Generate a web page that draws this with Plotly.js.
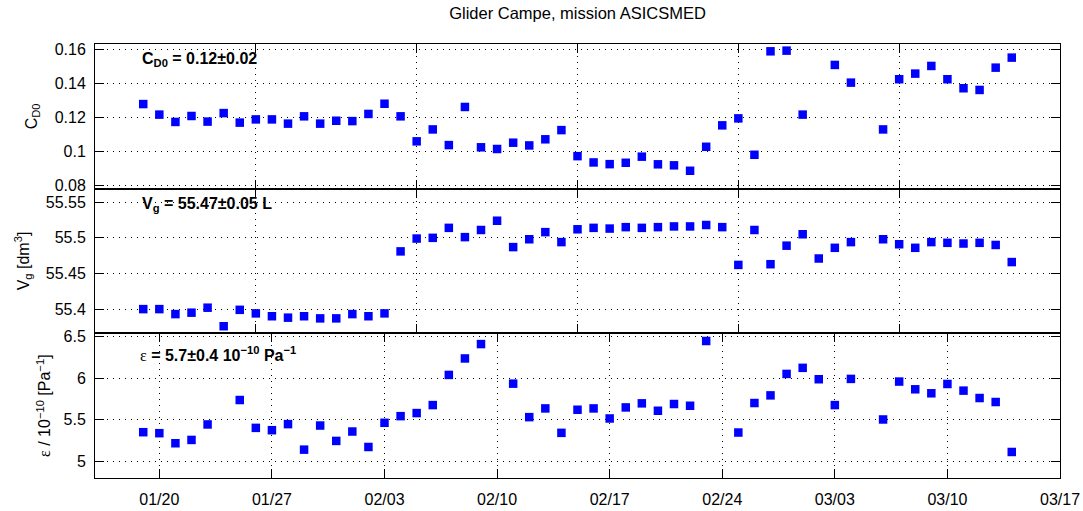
<!DOCTYPE html>
<html>
<head>
<meta charset="utf-8">
<script src="https://cdn.plot.ly/plotly-3.0.1.min.js"></script>
<style>
  html, body { margin: 0; padding: 0; background: #ffffff; }
  #chart { width: 1083px; height: 511px; }
</style>
</head>
<body>
<div id="chart"></div>
<script>
// Daily glider calibration results (one estimate per day)
const dates = [
  '2013-01-19', '2013-01-20', '2013-01-21', '2013-01-22', '2013-01-23', '2013-01-24', '2013-01-25',
  '2013-01-26', '2013-01-27', '2013-01-28', '2013-01-29', '2013-01-30', '2013-01-31', '2013-02-01',
  '2013-02-02', '2013-02-03', '2013-02-04', '2013-02-05', '2013-02-06', '2013-02-07', '2013-02-08',
  '2013-02-09', '2013-02-10', '2013-02-11', '2013-02-12', '2013-02-13', '2013-02-14', '2013-02-15',
  '2013-02-16', '2013-02-17', '2013-02-18', '2013-02-19', '2013-02-20', '2013-02-21', '2013-02-22',
  '2013-02-23', '2013-02-24', '2013-02-25', '2013-02-26', '2013-02-27', '2013-02-28', '2013-03-01',
  '2013-03-02', '2013-03-03', '2013-03-04', '2013-03-05', '2013-03-06', '2013-03-07', '2013-03-08',
  '2013-03-09', '2013-03-10', '2013-03-11', '2013-03-12', '2013-03-13', '2013-03-14'
];

// Drag coefficient C_D0
const cd0 = [
  0.1278, 0.1216, 0.1173, 0.1208, 0.1175, 0.1225, 0.1169,
  0.1188, 0.1188, 0.1163, 0.1206, 0.1163, 0.1180, 0.1178,
  0.1220, 0.1280, 0.1206, 0.1059, 0.1129, 0.1037, 0.1261,
  0.1024, 0.1014, 0.1051, 0.1035, 0.1071, 0.1125, 0.0972,
  0.0935, 0.0925, 0.0933, 0.0969, 0.0924, 0.0918, 0.0886,
  0.1027, 0.1153, 0.1194, 0.0980, 0.1588, 0.1592, 0.1216,
  null,   0.1508, 0.1404, null,   0.1129, 0.1424, 0.1457,
  0.1502, 0.1424, 0.1371, 0.1361, 0.1492, 0.1551
];

// Glider volume V_g [dm^3]
const vg = [
  55.400, 55.400, 55.393, 55.395, 55.402, 55.376, 55.399,
  55.394, 55.390, 55.388, 55.390, 55.387, 55.387, 55.393,
  55.390, 55.394, 55.481, 55.499, 55.500, 55.514, 55.501,
  55.511, 55.524, 55.487, 55.498, 55.508, 55.494, 55.512,
  55.514, 55.513, 55.515, 55.514, 55.515, 55.516, 55.516,
  55.518, 55.515, 55.462, 55.511, 55.463, 55.489, 55.505,
  55.471, 55.486, 55.494, null,   55.498, 55.491, 55.486,
  55.494, 55.493, 55.492, 55.493, 55.490, 55.466
];

// Hull compressibility epsilon [1e-10 Pa^-1]
const eps = [
  5.351, 5.339, 5.218, 5.258, 5.444, null,  5.738,
  5.403, 5.375, 5.448, 5.141, 5.431, 5.246, 5.359,
  5.173, 5.464, 5.544, 5.581, 5.677, 6.040, 6.238,
  6.411, null,  5.935, 5.532, 5.637, 5.343, 5.621,
  5.637, 5.516, 5.649, 5.698, 5.609, 5.690, 5.669,
  6.448, null,  5.347, 5.702, 5.794, 6.052, 6.125,
  5.988, 5.677, 5.992, null,  5.504, 5.960, 5.867,
  5.819, 5.931, 5.851, 5.762, 5.714, 5.113
];

// Axis ticks
const weekTicks = ['2013-01-20', '2013-01-27', '2013-02-03', '2013-02-10', '2013-02-17',
                   '2013-02-24', '2013-03-03', '2013-03-10', '2013-03-17'];
const weekLabels = ['01/20', '01/27', '02/03', '02/10', '02/17', '02/24', '03/03', '03/10', '03/17'];
const tenDayTicks = ['2013-01-16', '2013-01-26', '2013-02-05', '2013-02-15', '2013-02-25',
                     '2013-03-07', '2013-03-17'];
const xRange = ['2013-01-16', '2013-03-17'];

const cdTicks = [0.08, 0.1, 0.12, 0.14, 0.16];
const vgTicks = [55.4, 55.45, 55.5, 55.55];
const epsTicks = [5, 5.5, 6, 6.5];

const FONT = 'Liberation Sans, Arial, Helvetica, sans-serif';
const SERIF = 'Liberation Serif, Times New Roman, serif';

const marker = { symbol: 'square', size: 8.5, color: '#0000ff', line: { width: 0 } };

function series(y, xa, ya) {
  return { x: dates, y: y, xaxis: xa, yaxis: ya, type: 'scatter', mode: 'markers',
           marker: marker, cliponaxis: false, showlegend: false, hoverinfo: 'x+y' };
}

const traces = [
  series(eps, 'x', 'y'),
  series(vg, 'x2', 'y2'),
  series(cd0, 'x3', 'y3')
];

// dotted grid, black box with inward ticks on all four sides
const gridStyle = { showgrid: true, gridcolor: '#000000', gridwidth: 1, griddash: '1px,5px' };
const boxStyle = { showline: true, linecolor: '#000000', linewidth: 1, mirror: 'ticks',
                   ticks: 'inside', ticklen: 9, tickcolor: '#000000', tickwidth: 1,
                   zeroline: false, automargin: false,
                   tickfont: { family: FONT, size: 16, color: '#000000' } };

function xAxis(anchor, labelled) {
  const ax = Object.assign({}, boxStyle, gridStyle, {
    type: 'date', range: xRange, anchor: anchor, tickmode: 'array',
    showticklabels: labelled, ticklabelstandoff: 7
  });
  if (labelled) {
    ax.tickvals = weekTicks;
    ax.ticktext = weekLabels;
  } else {
    ax.tickvals = tenDayTicks;
  }
  return ax;
}

function yAxis(domain, range, ticks, title, standoff) {
  return Object.assign({}, boxStyle, gridStyle, {
    domain: domain, range: range, tickmode: 'array', tickvals: ticks,
    ticklabelstandoff: 5,
    title: { text: title, font: { family: FONT, size: 16, color: '#000000' }, standoff: standoff }
  });
}

const layout = {
  width: 1083, height: 511,
  margin: { l: 95, r: 23, t: 44, b: 33 },
  paper_bgcolor: '#ffffff', plot_bgcolor: '#ffffff',
  font: { family: FONT, size: 16, color: '#000000' },
  title: { text: 'Glider Campe, mission ASICSMED', font: { family: FONT, size: 16.5, color: '#000000' },
           x: 0.5, xref: 'paper', y: 0.975, yref: 'container', yanchor: 'middle' },
  xaxis: xAxis('y', true),
  xaxis2: xAxis('y2', false),
  xaxis3: xAxis('y3', false),
  yaxis: yAxis([0, 0.3333], [4.8, 6.54], epsTicks,
               '<span style="font-family:' + SERIF + '">ε</span> / 10<sup>−10</sup> [Pa<sup>−1</sup>]', 8),
  yaxis2: yAxis([0.3333, 0.6667], [55.366, 55.569], vgTicks, 'V<sub>g</sub> [dm<sup>3</sup>]', 12),
  yaxis3: yAxis([0.6667, 1], [0.0781, 0.1631], cdTicks, 'C<sub>D0</sub>', 13),
  annotations: [
    { text: '<b>C<sub>D0</sub> = 0.12±0.02</b>', xref: 'paper', yref: 'paper',
      x: 0.0466, y: 0.9908, xanchor: 'left', yanchor: 'top', showarrow: false,
      font: { family: FONT, size: 16, color: '#000000' } },
    { text: '<b>V<sub>g</sub> = 55.47±0.05 L</b>', xref: 'paper', yref: 'paper',
      x: 0.0466, y: 0.6567, xanchor: 'left', yanchor: 'top', showarrow: false,
      font: { family: FONT, size: 16, color: '#000000' } },
    { text: '<span style="font-family:' + SERIF + '">ε</span> <b>= 5.7±0.4 10<sup>−10</sup> Pa<sup>−1</sup></b>',
      xref: 'paper', yref: 'paper',
      x: 0.0446, y: 0.3134, xanchor: 'left', yanchor: 'top', showarrow: false,
      font: { family: FONT, size: 16, color: '#000000' } }
  ]
};

Plotly.newPlot('chart', traces, layout, { staticPlot: true, displayModeBar: false });
</script>
</body>
</html>
